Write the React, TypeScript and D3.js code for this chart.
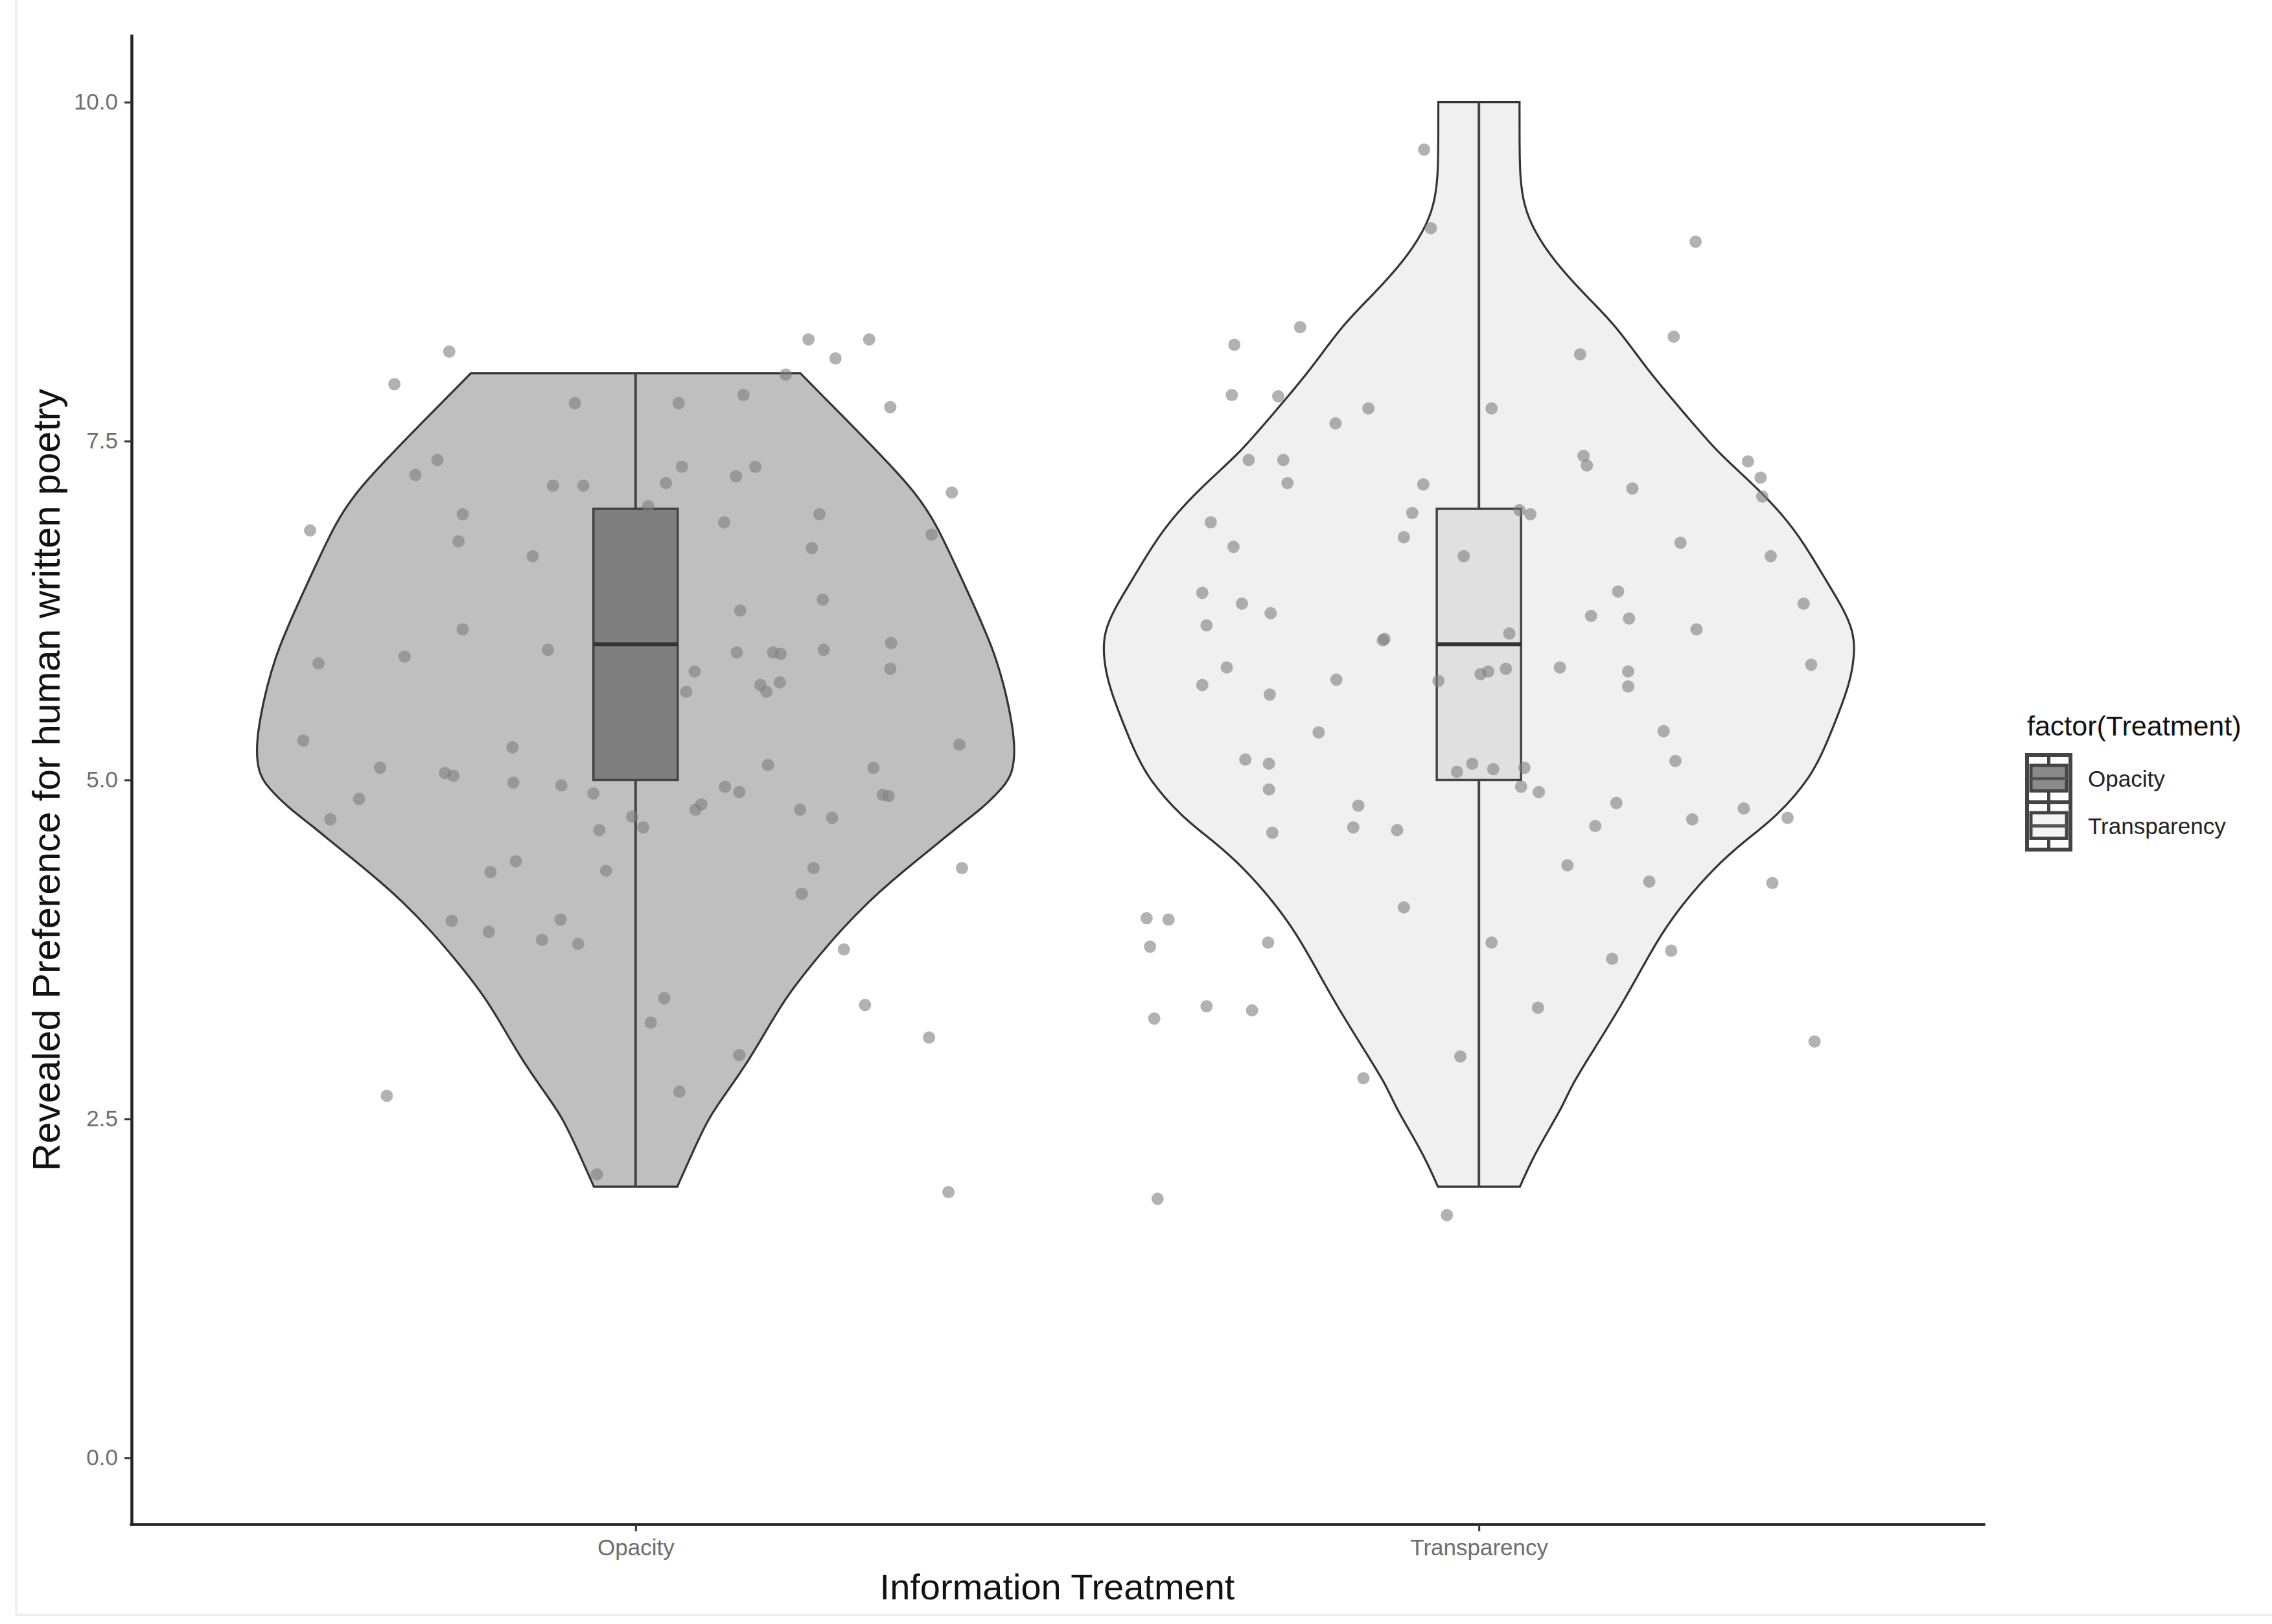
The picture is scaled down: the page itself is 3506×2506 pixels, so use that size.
import React, { useRef, useEffect } from "react";
import * as d3 from "d3";

const WIDTH = 3506;
const HEIGHT = 2506;
const FONT = "'Liberation Sans', Arial, sans-serif";

const categories = ["Opacity", "Transparency"];
const violinFill = ["#bfbfbf", "#f0f0f0"];
const boxFill = ["#7f7f7f", "#e0e0e0"];
const yTicks = [0, 2.5, 5, 7.5, 10];

// box statistics per treatment
const boxQ1 = [5, 5];
const boxMedian = [6, 6];
const boxQ3 = [7, 7];
const whiskerLow = [2, 2];
const whiskerHigh = [8, 10];

// violin outlines: [value, half width relative to the widest]
const opacityViolin: [number, number][] = [
  [8.0, 0.434], [7.7, 0.54], [7.4, 0.645], [7.13, 0.735], [6.9, 0.79],
  [6.6, 0.84], [6.36, 0.88], [5.97, 0.942], [5.7, 0.971], [5.41, 0.993],
  [5.21, 1.0], [5.05, 0.993], [4.95, 0.971], [4.79, 0.913], [4.67, 0.856],
  [4.54, 0.8], [4.41, 0.742], [4.25, 0.673], [4.11, 0.617], [3.9, 0.543],
  [3.62, 0.458], [3.39, 0.395], [3.15, 0.344], [2.93, 0.298], [2.7, 0.241],
  [2.52, 0.195], [2.29, 0.156], [2.0, 0.11],
];

const transparencyViolin: [number, number][] = [
  [10.0, 0.107], [9.7, 0.107], [9.45, 0.108], [9.24, 0.118], [9.05, 0.145],
  [8.83, 0.197], [8.57, 0.282], [8.35, 0.362], [8.0, 0.45], [7.66, 0.555],
  [7.41, 0.631], [7.2, 0.716], [6.96, 0.8], [6.74, 0.858], [6.47, 0.915],
  [6.26, 0.961], [6.1, 0.986], [5.94, 0.991], [5.72, 0.978], [5.5, 0.949],
  [5.26, 0.915], [5.02, 0.875], [4.73, 0.785], [4.55, 0.7], [4.35, 0.619],
  [4.09, 0.538], [3.87, 0.482], [3.62, 0.431], [3.33, 0.374], [2.95, 0.289],
  [2.74, 0.243], [2.59, 0.22], [2.4, 0.18], [2.2, 0.14], [2.0, 0.108],
];

// jittered observations: [horizontal jitter in category units, value]
const opacityPoints: [number, number][] = [
  [-0.221, 8.16], [-0.286, 7.92], [0.205, 8.25], [0.277, 8.25], [0.237, 8.11],
  [0.178, 7.99], [0.302, 7.75], [-0.072, 7.78], [0.051, 7.78], [0.128, 7.84],
  [-0.235, 7.36], [-0.261, 7.25], [-0.098, 7.17], [-0.062, 7.17], [0.036, 7.19],
  [0.055, 7.31], [0.119, 7.24], [0.142, 7.31], [0.375, 7.12], [-0.386, 6.84],
  [-0.205, 6.96], [-0.21, 6.76], [-0.122, 6.65], [0.015, 7.02], [0.105, 6.9],
  [0.218, 6.96], [0.209, 6.71], [0.351, 6.81], [0.222, 6.33], [0.124, 6.25],
  [-0.205, 6.11], [-0.022, 6.17], [-0.376, 5.86], [-0.274, 5.91], [-0.104, 5.96],
  [-0.008, 5.9], [-0.034, 5.74], [-0.038, 5.63], [0.07, 5.8], [0.06, 5.65],
  [0.12, 5.94], [0.163, 5.94], [0.172, 5.93], [0.223, 5.96], [0.303, 6.01],
  [0.302, 5.82], [0.148, 5.7], [0.155, 5.65], [0.171, 5.72], [-0.394, 5.29],
  [-0.146, 5.24], [0.384, 5.26], [-0.303, 5.09], [-0.226, 5.05], [-0.216, 5.03],
  [-0.145, 4.98], [-0.328, 4.86], [-0.362, 4.71], [-0.088, 4.96], [-0.05, 4.9],
  [-0.004, 4.73], [0.009, 4.65], [-0.043, 4.63], [0.071, 4.78], [0.078, 4.82],
  [0.106, 4.95], [0.123, 4.91], [0.157, 5.11], [0.195, 4.78], [0.233, 4.72],
  [0.282, 5.09], [0.293, 4.89], [0.3, 4.88], [0.387, 4.35], [0.211, 4.35],
  [0.197, 4.16], [-0.142, 4.4], [-0.172, 4.32], [-0.035, 4.33], [-0.218, 3.96],
  [-0.174, 3.88], [-0.111, 3.82], [-0.089, 3.97], [-0.068, 3.79], [0.247, 3.75],
  [0.272, 3.34], [0.348, 3.1], [0.034, 3.39], [0.018, 3.21], [0.123, 2.97],
  [0.052, 2.7], [-0.295, 2.67], [-0.046, 2.09], [0.371, 1.96],
];

const transparencyPoints: [number, number][] = [
  [-0.065, 9.65], [-0.057, 9.07], [0.257, 8.97], [-0.212, 8.34], [-0.29, 8.21],
  [0.231, 8.27], [0.12, 8.14], [-0.293, 7.84], [-0.238, 7.83], [-0.131, 7.74],
  [-0.17, 7.63], [0.015, 7.74], [-0.273, 7.36], [-0.232, 7.36], [-0.227, 7.19],
  [0.124, 7.39], [0.128, 7.32], [0.182, 7.15], [-0.066, 7.18], [0.319, 7.35],
  [0.334, 7.23], [0.336, 7.09], [-0.079, 6.97], [-0.089, 6.79], [-0.318, 6.9],
  [-0.291, 6.72], [0.048, 6.99], [0.061, 6.96], [-0.018, 6.65], [0.239, 6.75],
  [0.346, 6.65], [-0.328, 6.38], [-0.281, 6.3], [-0.247, 6.23], [-0.323, 6.14],
  [-0.112, 6.04], [-0.114, 6.03], [0.036, 6.08], [0.165, 6.39], [0.133, 6.21],
  [0.178, 6.19], [0.258, 6.11], [0.385, 6.3], [-0.299, 5.83], [-0.328, 5.7],
  [-0.248, 5.63], [-0.169, 5.74], [-0.048, 5.73], [0.002, 5.78], [0.011, 5.8],
  [0.032, 5.82], [0.096, 5.83], [0.177, 5.8], [0.177, 5.69], [0.394, 5.85],
  [-0.19, 5.35], [0.219, 5.36], [0.233, 5.14], [-0.277, 5.15], [-0.249, 5.12],
  [-0.249, 4.93], [-0.245, 4.61], [-0.026, 5.06], [-0.008, 5.12], [0.017, 5.08],
  [0.054, 5.09], [0.05, 4.95], [0.071, 4.91], [-0.143, 4.81], [-0.149, 4.65],
  [-0.097, 4.63], [0.163, 4.83], [0.138, 4.66], [0.253, 4.71], [0.314, 4.79],
  [0.366, 4.72], [0.105, 4.37], [0.202, 4.25], [0.348, 4.24], [-0.089, 4.06],
  [-0.394, 3.98], [-0.368, 3.97], [-0.39, 3.77], [-0.25, 3.8], [0.015, 3.8],
  [0.158, 3.68], [0.228, 3.74], [-0.323, 3.33], [-0.269, 3.3], [-0.385, 3.24],
  [0.07, 3.32], [0.398, 3.07], [-0.022, 2.96], [-0.137, 2.8], [-0.381, 1.91],
  [-0.038, 1.79],
];

const violins = [opacityViolin, transparencyViolin];
const points = [opacityPoints, transparencyPoints];

const ViolinChart = () => {
  const svgRef = useRef<SVGSVGElement>(null);

  useEffect(() => {
    const svg = d3.select(svgRef.current);
    svg.selectAll("*").remove();

    const x = d3.scaleLinear().domain([0.4, 2.6]).range([200, 3063]);
    const y = d3.scaleLinear().domain([-0.5, 10.5]).range([2354, 53]);
    const unit = x(1) - x(0);

    svg.append("rect").attr("width", WIDTH).attr("height", HEIGHT).attr("fill", "#fff");
    // faint frame of the embedded figure
    svg.append("line").attr("x1", 25).attr("x2", 25).attr("y1", 0).attr("y2", 2492)
      .attr("stroke", "#ececec").attr("stroke-width", 3);
    svg.append("line").attr("x1", 25).attr("x2", WIDTH).attr("y1", 2492).attr("y2", 2492)
      .attr("stroke", "#ececec").attr("stroke-width", 3);

    const plot = svg.append("g");

    categories.forEach((cat, i) => {
      const cx = x(i + 1);
      const area = d3
        .area<[number, number]>()
        .curve(d3.curveBasis)
        .y((d) => y(d[0]))
        .x0((d) => cx - d[1] * 0.45 * unit)
        .x1((d) => cx + d[1] * 0.45 * unit);

      plot
        .append("path")
        .attr("d", area(violins[i]))
        .attr("fill", violinFill[i])
        .attr("stroke", "#333")
        .attr("stroke-width", 3.2);

      // whisker
      plot
        .append("line")
        .attr("x1", cx)
        .attr("x2", cx)
        .attr("y1", y(whiskerLow[i]))
        .attr("y2", y(whiskerHigh[i]))
        .attr("stroke", "#444")
        .attr("stroke-width", 4);

      // box
      plot
        .append("rect")
        .attr("x", cx - 0.05 * unit)
        .attr("width", 0.1 * unit)
        .attr("y", y(boxQ3[i]))
        .attr("height", y(boxQ1[i]) - y(boxQ3[i]))
        .attr("fill", boxFill[i])
        .attr("stroke", "#444")
        .attr("stroke-width", 3.5);

      plot
        .append("line")
        .attr("x1", cx - 0.05 * unit)
        .attr("x2", cx + 0.05 * unit)
        .attr("y1", y(boxMedian[i]))
        .attr("y2", y(boxMedian[i]))
        .attr("stroke", "#333")
        .attr("stroke-width", 6);
    });

    categories.forEach((cat, i) => {
      const cx = x(i + 1);
      plot
        .selectAll(`.pt-${i}`)
        .data(points[i])
        .enter()
        .append("circle")
        .attr("class", `pt-${i}`)
        .attr("cx", (d) => cx + d[0] * unit)
        .attr("cy", (d) => y(d[1]))
        .attr("r", 9.5)
        .attr("fill", "#7f7f7f")
        .attr("fill-opacity", 0.6);
    });

    // axes
    const yAxis = svg
      .append("g")
      .attr("transform", "translate(203,0)")
      .call(
        d3.axisLeft(y).tickValues(yTicks).tickFormat(d3.format(".1f")).tickSize(11).tickSizeOuter(0).tickPadding(10)
      );
    const xAxis = svg
      .append("g")
      .attr("transform", "translate(0,2352)")
      .call(
        d3
          .axisBottom(x)
          .tickValues([1, 2])
          .tickFormat((d) => categories[Math.round(+d) - 1])
          .tickSize(11)
          .tickSizeOuter(0)
          .tickPadding(12)
      );
    [yAxis, xAxis].forEach((ax) => {
      ax.select(".domain").attr("stroke", "#222").attr("stroke-width", 4.5);
      ax.selectAll(".tick line").attr("stroke", "#333").attr("stroke-width", 3);
      ax.selectAll(".tick text")
        .attr("fill", "#6e6e6e")
        .style("font-family", FONT)
        .style("font-size", "35px");
    });

    svg
      .append("text")
      .attr("x", (x(0.4) + x(2.6)) / 2)
      .attr("y", 2448)
      .attr("text-anchor", "middle")
      .attr("dominant-baseline", "central")
      .style("font-family", FONT)
      .style("font-size", "56px")
      .attr("fill", "#111")
      .text("Information Treatment");

    svg
      .append("text")
      .attr("transform", `translate(72,${(y(-0.5) + y(10.5)) / 2}) rotate(-90)`)
      .attr("text-anchor", "middle")
      .attr("dominant-baseline", "central")
      .style("font-family", FONT)
      .style("font-size", "59px")
      .attr("fill", "#111")
      .text("Revealed Preference for human written poetry");

    // legend
    const legend = svg.append("g").attr("transform", "translate(3128,1135)");
    legend
      .append("text")
      .attr("x", 0)
      .attr("y", 0)
      .style("font-family", FONT)
      .style("font-size", "43px")
      .attr("fill", "#111")
      .text("factor(Treatment)");

    const keyW = 67;
    const keyH = 73;
    categories.forEach((cat, i) => {
      const g = legend.append("g").attr("transform", `translate(0,${30 + i * keyH})`);
      g.append("rect")
        .attr("width", keyW)
        .attr("height", keyH)
        .attr("fill", "#fff")
        .attr("stroke", "#444")
        .attr("stroke-width", 6);
      g.append("line")
        .attr("x1", keyW / 2)
        .attr("x2", keyW / 2)
        .attr("y1", 0)
        .attr("y2", keyH)
        .attr("stroke", "#444")
        .attr("stroke-width", 5);
      g.append("rect")
        .attr("x", 6)
        .attr("width", keyW - 12)
        .attr("y", keyH * 0.22)
        .attr("height", keyH * 0.54)
        .attr("fill", i === 0 ? "#8a8a8a" : "#f4f4f4")
        .attr("stroke", "#444")
        .attr("stroke-width", 5);
      g.append("line")
        .attr("x1", 6)
        .attr("x2", keyW - 6)
        .attr("y1", keyH / 2)
        .attr("y2", keyH / 2)
        .attr("stroke", "#555")
        .attr("stroke-width", 5);
      g.append("text")
        .attr("x", 94)
        .attr("y", keyH / 2)
        .attr("dominant-baseline", "central")
        .style("font-family", FONT)
        .style("font-size", "35px")
        .attr("fill", "#222")
        .text(cat);
    });
  }, []);

  return (
    <svg
      ref={svgRef}
      width={WIDTH}
      height={HEIGHT}
      style={{ position: "absolute", left: 0, top: 0, display: "block" }}
    ></svg>
  );
};

export default function App() {
  return <ViolinChart />;
}
